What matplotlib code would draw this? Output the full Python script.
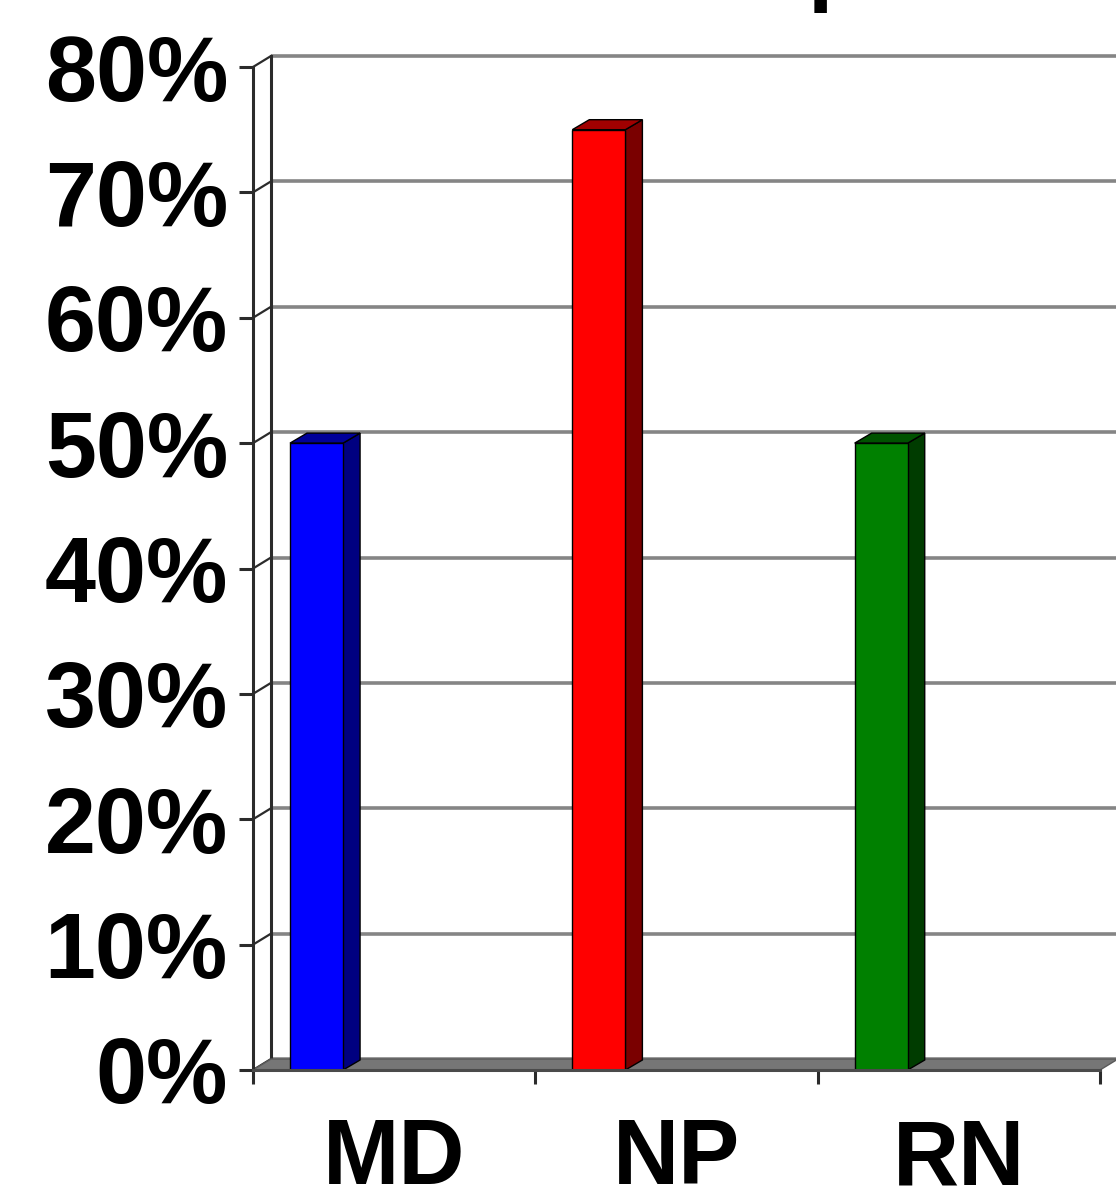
import matplotlib.pyplot as plt
import matplotlib.ticker as mticker
from matplotlib.patches import Polygon

# ---- data ----
categories = ['MD', 'NP', 'RN']
values = [50, 75, 50]              # percent
front_colors = ['#0000FF', '#FF0000', '#008000']
side_colors = ['#000080', '#7A0000', '#003C00']
top_colors = ['#00009A', '#A00000', '#005200']
yticks = [0, 10, 20, 30, 40, 50, 60, 70, 80]

plt.rcParams['font.family'] = ['Liberation Sans', 'DejaVu Sans']
plt.rcParams['font.weight'] = 'bold'

W, H = 1116, 1204
fig = plt.figure(figsize=(W / 100, H / 100), dpi=100)
# axes = front plane of the 3d box (pixels: x 253..1100, y 67..1070)
ax = fig.add_axes([253 / W, (H - 1070) / H, 847 / W, 1003 / H])
ax.set_xlim(-0.5, 2.5)
ax.set_ylim(0, 80)
ax.patch.set_alpha(0)

px_x = 847 / 3.0      # pixels per category
px_y = 1003 / 80.0    # pixels per percent
dx = 18 / px_x        # depth offset of walls
dy = 11 / px_y
bdx = 17 / px_x       # depth offset of bars
bdy = 10 / px_y

grid_c = '#858585'
line_c = '#2b2b2b'

# back wall gridlines + left wall connectors
for v in yticks:
    ax.plot([-0.5 + dx, 2.5 + dx], [v + dy, v + dy], color=grid_c, lw=2.6,
            clip_on=False, zorder=1, solid_capstyle='butt')
    ax.plot([-0.5, -0.5 + dx], [v, v + dy], color=line_c, lw=1.6,
            clip_on=False, zorder=1)
ax.plot([-0.5 + dx, -0.5 + dx], [dy, 80 + dy], color=line_c, lw=2.2,
        clip_on=False, zorder=1)

# floor
floor = Polygon([(-0.5, 0), (2.5, 0), (2.5 + dx, dy), (-0.5 + dx, dy)],
                closed=True, facecolor='#767676', edgecolor='#5a5a5a',
                lw=1.0, clip_on=False, zorder=2)
ax.add_patch(floor)

# bars
xpos = [i - 0.275 for i in range(len(categories))]
bw = 0.188
ax.bar(xpos, values, width=bw, color=front_colors, edgecolor='black',
       linewidth=1.0, zorder=4)
for x, v, sc, tc in zip(xpos, values, side_colors, top_colors):
    r = x + bw / 2
    l = x - bw / 2
    side = Polygon([(r, 0), (r + bdx, bdy), (r + bdx, v + bdy), (r, v)],
                   closed=True, facecolor=sc, edgecolor='black', lw=1.0,
                   clip_on=False, zorder=3)
    top = Polygon([(l, v), (r, v), (r + bdx, v + bdy), (l + bdx, v + bdy)],
                  closed=True, facecolor=tc, edgecolor='black', lw=1.0,
                  clip_on=False, zorder=3)
    ax.add_patch(side)
    ax.add_patch(top)

# spines
for s in ['top', 'right']:
    ax.spines[s].set_visible(False)
ax.spines['left'].set_color(line_c)
ax.spines['left'].set_linewidth(2.2)
ax.spines['bottom'].set_color('#4a4a4a')
ax.spines['bottom'].set_linewidth(2.2)
ax.spines['left'].set_zorder(5)
ax.spines['bottom'].set_zorder(5)

# y axis
ax.set_yticks(yticks)
ax.yaxis.set_major_formatter(mticker.FuncFormatter(lambda v, p: f'{v:.0f}%'))
ax.tick_params(axis='y', length=10, width=2.2, color=line_c, pad=8,
               labelsize=66, labelcolor='black')
for t in ax.get_yticklabels():
    t.set_fontweight('bold')

# x axis: labels at centres, ticks at boundaries
ax.set_xticks(range(len(categories)))
ax.set_xticklabels(categories, fontsize=66, fontweight='bold')
ax.tick_params(axis='x', which='major', length=0, pad=34)
ax.set_xticks([-0.5, 0.5, 1.5, 2.5], minor=True)
ax.tick_params(axis='x', which='minor', length=10, width=2.2, color=line_c)

# descender of the cropped title at the very top
fig.text(808 / W, 1.0 + 6 / H, 'p', fontsize=66, fontweight='bold',
         va='baseline', ha='left', color='black')

fig.savefig('out.png', dpi=100)
